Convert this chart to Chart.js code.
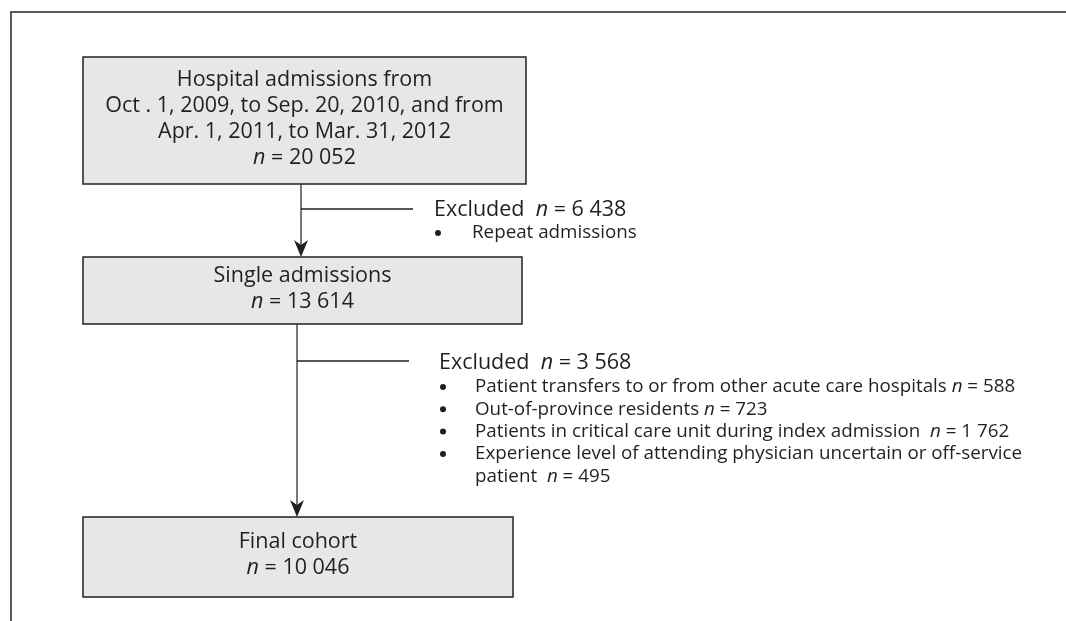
<!DOCTYPE html>
<html>
<head>
<meta charset="utf-8">
<script src="https://cdn.jsdelivr.net/npm/chart.js@4"></script>
<style>
  body { margin: 0; background: #fff; }
  canvas { display: block; }
</style>
</head>
<body>
<canvas id="flowChart" width="1066" height="621"></canvas>
<script>
// Flow of the cohort: stage boxes and exclusions
const stageTitles = [
    ["Hospital admissions from", "Oct . 1, 2009, to Sep. 20, 2010, and from", "Apr. 1, 2011, to Mar. 31, 2012"],
    ["Single admissions"],
    ["Final cohort"]
];
const stageCounts = ["20 052", "13 614", "10 046"];
const excludedCounts = ["6 438", "3 568"];
const exclusionReasons = [
    ["Repeat admissions"],
    ["Patient transfers to or from other acute care hospitals ",
     "Out-of-province residents ",
     "Patients in critical care unit during index admission  ",
     "Experience level of attending physician uncertain or off-service|patient  "]
];
const reasonCounts = [
    [null],
    ["588", "723", "1 762", "495"]
];

// layout in scale units (x: 0..1066, y: 0..621 top-down)
const boxes = [
    { x0: 83, x1: 526, y0: 57, y1: 184 },
    { x0: 83, x1: 522, y0: 257, y1: 324 },
    { x0: 83, x1: 513, y0: 517, y1: 597 }
];
const links = [
    { x: 301, branchY: 209, branchEnd: 413, labelX: 434, labelY: 210, bulletX: 438, textX: 472, firstY: 233 },
    { x: 297, branchY: 361, branchEnd: 409, labelX: 439, labelY: 363, bulletX: 443, textX: 475, firstY: 387 }
];

const FONT = '"Open Sans", "Noto Sans", sans-serif';
const INK = '#231f20';

// draw a line of text made of plain and italic pieces
function drawRich(ctx, parts, x, y, size, align) {
    let total = 0;
    parts.forEach(p => {
        ctx.font = (p.it ? 'italic ' : '') + size + 'px ' + FONT;
        p.w = ctx.measureText(p.t).width;
        total += p.w;
    });
    let cx = align === 'center' ? x - total / 2 : x;
    ctx.textAlign = 'left';
    ctx.textBaseline = 'middle';
    parts.forEach(p => {
        ctx.font = (p.it ? 'italic ' : '') + size + 'px ' + FONT;
        ctx.fillText(p.t, cx, y);
        cx += p.w;
    });
}

function countParts(prefix, count) {
    return [{ t: prefix }, { t: 'n', it: true }, { t: ' = ' + count }];
}

function arrowHead(ctx, x, y) {
    ctx.beginPath();
    ctx.moveTo(x, y);
    ctx.lineTo(x - 7, y - 17);
    ctx.lineTo(x, y - 12);
    ctx.lineTo(x + 7, y - 17);
    ctx.closePath();
    ctx.fill();
}

const flowPlugin = {
    id: 'flow',
    afterDraw(chart) {
        const ctx = chart.ctx;
        const sx = chart.scales.x, sy = chart.scales.y;
        const px = v => sx.getPixelForValue(v);
        const py = v => sy.getPixelForValue(v);
        ctx.save();

        // frame
        ctx.strokeStyle = '#5a5a5a';
        ctx.lineWidth = 2;
        ctx.beginPath();
        ctx.moveTo(px(11), py(621));
        ctx.lineTo(px(11), py(12));
        ctx.lineTo(px(1066), py(12));
        ctx.stroke();

        // boxes
        boxes.forEach((b, i) => {
            const x0 = px(b.x0), x1 = px(b.x1), y0 = py(b.y0), y1 = py(b.y1);
            ctx.fillStyle = '#e6e7e8';
            ctx.fillRect(x0, y0, x1 - x0, y1 - y0);
            ctx.strokeStyle = INK;
            ctx.lineWidth = 1.5;
            ctx.strokeRect(x0, y0, x1 - x0, y1 - y0);

            const lines = stageTitles[i].map(t => [{ t: t }]);
            lines.push(countParts('', stageCounts[i]));
            const lh = 26;
            const cy = (y0 + y1) / 2 - 2 - (lines.length - 1) * lh / 2;
            ctx.fillStyle = INK;
            lines.forEach((parts, k) => drawRich(ctx, parts, (x0 + x1) / 2, cy + k * lh, 21.5, 'center'));
        });

        // connectors and exclusions
        links.forEach((l, i) => {
            const x = px(l.x);
            ctx.strokeStyle = INK;
            ctx.lineWidth = 1.2;
            ctx.beginPath();
            ctx.moveTo(x, py(boxes[i].y1));
            ctx.lineTo(x, py(boxes[i + 1].y0) - 4);
            ctx.stroke();
            ctx.fillStyle = INK;
            arrowHead(ctx, x, py(boxes[i + 1].y0));

            ctx.lineWidth = 1.6;
            ctx.beginPath();
            ctx.moveTo(x, py(l.branchY));
            ctx.lineTo(px(l.branchEnd), py(l.branchY));
            ctx.stroke();

            drawRich(ctx, [{ t: 'Excluded  ' }, { t: 'n', it: true }, { t: ' = ' + excludedCounts[i] }],
                px(l.labelX), py(l.labelY), 21.5, 'left');

            let y = l.firstY;
            exclusionReasons[i].forEach((r, k) => {
                ctx.beginPath();
                ctx.arc(px(l.bulletX), py(y), 3, 0, Math.PI * 2);
                ctx.fill();
                const rows = r.split('|');
                const cnt = reasonCounts[i][k];
                rows.forEach((row, j) => {
                    const parts = [{ t: row }];
                    if (cnt !== null && j === rows.length - 1) {
                        parts.push({ t: 'n', it: true }, { t: ' = ' + cnt });
                    }
                    drawRich(ctx, parts, px(l.textX), py(y), 18.8, 'left');
                    y += 22.3;
                });
            });
        });
        ctx.restore();
    }
};

new Chart(document.getElementById('flowChart'), {
    type: 'scatter',
    data: { datasets: [{ data: [], pointRadius: 0 }] },
    options: {
        responsive: false,
        animation: false,
        layout: { padding: 0 },
        plugins: { legend: { display: false }, tooltip: { enabled: false } },
        scales: {
            x: { type: 'linear', min: 0, max: 1066, display: false },
            y: { type: 'linear', min: 0, max: 621, reverse: true, display: false }
        }
    },
    plugins: [flowPlugin]
});
</script>
</body>
</html>
